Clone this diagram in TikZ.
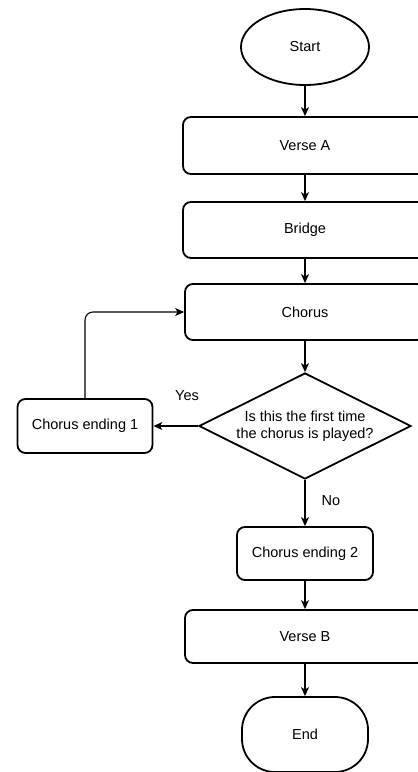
\documentclass[tikz,border=0pt]{standalone}
\usepackage{fontspec}
\setmainfont{Liberation Sans}
\usetikzlibrary{shapes.geometric,arrows.meta}
\begin{document}
\begin{tikzpicture}[x=1pt,y=-1pt,
  font=\fontsize{14.5}{17.4}\selectfont,
  box/.style={draw,line width=1.8pt,rounded corners=8pt,minimum height=56pt,inner sep=0pt,align=center},
  term/.style={draw,line width=1.8pt,ellipse,minimum width=128pt,minimum height=76pt,inner sep=0pt},
  endterm/.style={draw,line width=1.8pt,rectangle,rounded corners=33pt,minimum width=126pt,minimum height=75pt,inner sep=0pt},
  dec/.style={draw,line width=1.8pt,diamond,aspect=2,minimum width=212pt,minimum height=106pt,inner sep=0pt,align=center},
  arr/.style={draw,line width=1.1pt,-{Stealth[length=9pt,width=8pt,inset=2.5pt]}},
  lbl/.style={inner sep=0pt}]
\useasboundingbox (0,0) rectangle (418,772);
\clip (0,0) rectangle (418,772);
\node[term] (start) at (305,47) {Start};
\node[box,minimum width=244pt,minimum height=57pt] (va) at (305,145.5) {Verse A};
\node[box,minimum width=244pt] (br) at (305,230) {Bridge};
\node[box,minimum width=240pt] (ch) at (305,312) {Chorus};
\node[dec] (q) at (305,426) {Is this the first time\\the chorus is played?};
\node[box,minimum width=135pt,minimum height=54pt] (ce1) at (85,426) {Chorus ending 1};
\node[box,minimum width=136pt,minimum height=53pt] (ce2) at (305,553.5) {Chorus ending 2};
\node[box,minimum width=240pt,minimum height=53pt] (vb) at (305,636.5) {Verse B};
\node[endterm] (end) at (305,734.5) {End};
\node[lbl] (yes) at (187,396) {Yes};
\node[lbl] (no) at (331,501) {No};
\draw[arr] (start) -- (va);
\draw[arr] (va) -- (br);
\draw[arr] (br) -- (ch);
\draw[arr] (ch) -- (q);
\draw[arr] (q.west) -- (ce1.east);
\draw[arr,rounded corners=8pt] (ce1.north) |- (ch.west);
\draw[arr] (q.south) -- (ce2.north);
\draw[arr] (ce2) -- (vb);
\draw[arr] (vb) -- (end);
\end{tikzpicture}
\end{document}
